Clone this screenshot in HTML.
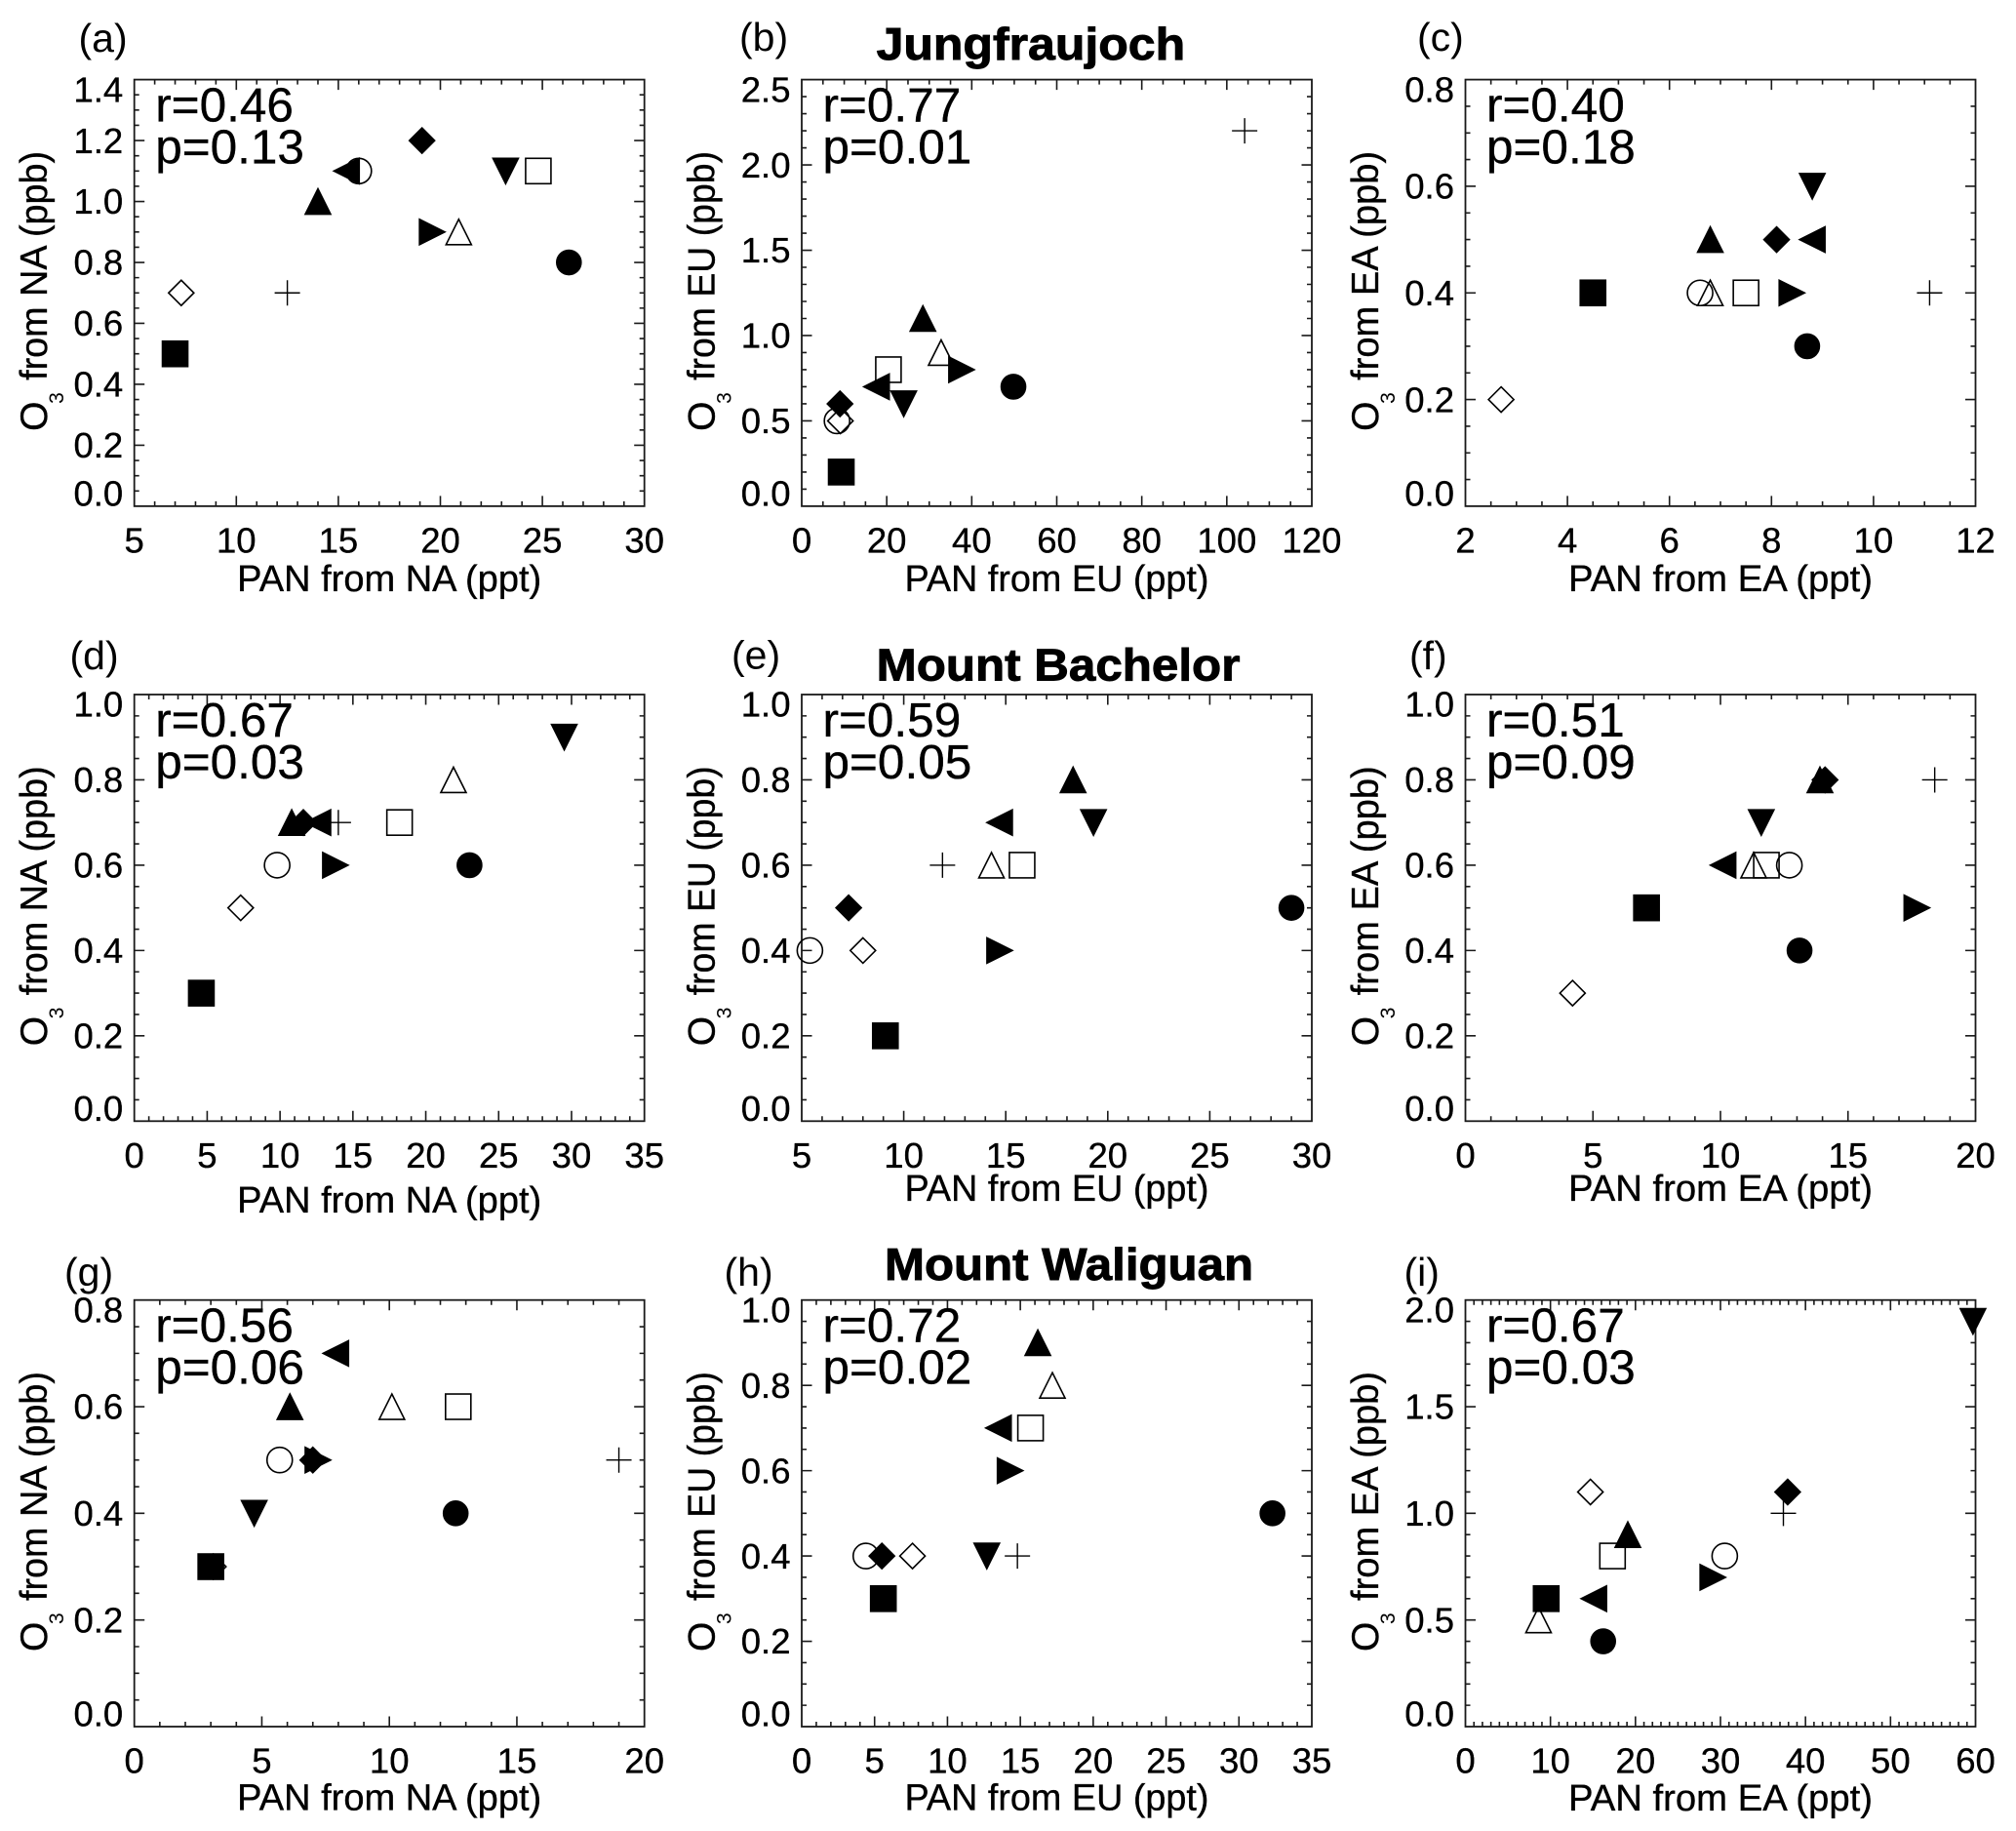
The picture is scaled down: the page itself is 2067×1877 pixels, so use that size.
<!DOCTYPE html>
<html lang="en">
<head>
<meta charset="utf-8">
<title>PAN vs O3 scatter panels</title>
<style>
html,body{margin:0;padding:0;background:#fff;}
svg{display:block;}
text{font-family:"Liberation Sans",Arial,sans-serif;fill:#000;}
</style>
</head>
<body>
<svg id="figure" xmlns="http://www.w3.org/2000/svg" width="2067" height="1877" viewBox="0 0 2067 1877"></svg>
<script>
// Month symbols shared by every panel (same order as every value array below)
const monthSymbols = ['fsq','fci','ftu','ftd','fl','fr','fdi','osq','oci','otu','odi','plus'];

// Panel (a) Jungfraujoch, NA
const panelAPan = [7.0,26.3,14.0,23.2,15.4,19.6,19.1,24.8,16.0,20.9,7.3,12.5];
const panelAO3  = [0.5,0.8,1.0,1.1,1.1,0.9,1.2,1.1,1.1,0.9,0.7,0.7];
const panelAXTicks = ['5','10','15','20','25','30'];
const panelAYTicks = ['0.0','0.2','0.4','0.6','0.8','1.0','1.2','1.4'];
// Panel (b) Jungfraujoch, EU
const panelBPan = [9.3,49.8,28.5,24.0,17.6,37.6,9.0,20.4,8.3,32.8,9.1,104.2];
const panelBO3  = [0.2,0.7,1.1,0.6,0.7,0.8,0.6,0.8,0.5,0.9,0.5,2.2];
const panelBXTicks = ['0','20','40','60','80','100','120'];
const panelBYTicks = ['0.0','0.5','1.0','1.5','2.0','2.5'];
// Panel (c) Jungfraujoch, EA
const panelCPan = [4.5,8.7,6.8,8.8,8.8,8.4,8.1,7.5,6.6,6.8,2.7,11.1];
const panelCO3  = [0.4,0.3,0.5,0.6,0.5,0.4,0.5,0.4,0.4,0.4,0.2,0.4];
const panelCXTicks = ['2','4','6','8','10','12'];
const panelCYTicks = ['0.0','0.2','0.4','0.6','0.8'];
// Panel (d) Mount Bachelor, NA
const panelDPan = [4.6,23.0,10.8,29.5,12.6,13.8,11.6,18.2,9.8,21.9,7.3,14.0];
const panelDO3  = [0.3,0.6,0.7,0.9,0.7,0.6,0.7,0.7,0.6,0.8,0.5,0.7];
const panelDXTicks = ['0','5','10','15','20','25','30','35'];
const panelDYTicks = ['0.0','0.2','0.4','0.6','0.8','1.0'];
// Panel (e) Mount Bachelor, EU
const panelEPan = [9.1,29.0,18.3,19.3,14.7,14.7,7.3,15.8,5.4,14.3,8.0,11.9];
const panelEO3  = [0.2,0.5,0.8,0.7,0.7,0.4,0.5,0.6,0.4,0.6,0.4,0.6];
const panelEXTicks = ['5','10','15','20','25','30'];
const panelEYTicks = ['0.0','0.2','0.4','0.6','0.8','1.0'];
// Panel (f) Mount Bachelor, EA
const panelFPan = [7.1,13.1,13.9,11.6,10.1,17.7,14.1,11.8,12.7,11.3,4.2,18.4];
const panelFO3  = [0.5,0.4,0.8,0.7,0.6,0.5,0.8,0.6,0.6,0.6,0.3,0.8];
const panelFXTicks = ['0','5','10','15','20'];
const panelFYTicks = ['0.0','0.2','0.4','0.6','0.8','1.0'];
// Panel (g) Mount Waliguan, NA
const panelGPan = [3.0,12.6,6.1,4.7,7.9,7.2,7.0,12.7,5.7,10.1,3.1,19.0];
const panelGO3  = [0.3,0.4,0.6,0.4,0.7,0.5,0.5,0.6,0.5,0.6,0.3,0.5];
const panelGXTicks = ['0','5','10','15','20'];
const panelGYTicks = ['0.0','0.2','0.4','0.6','0.8'];
// Panel (h) Mount Waliguan, EU
const panelHPan = [5.6,32.3,16.2,12.7,13.5,14.3,5.5,15.7,4.4,17.2,7.6,14.8];
const panelHO3  = [0.3,0.5,0.9,0.4,0.7,0.6,0.4,0.7,0.4,0.8,0.4,0.4];
const panelHXTicks = ['0','5','10','15','20','25','30','35'];
const panelHYTicks = ['0.0','0.2','0.4','0.6','0.8','1.0'];
// Panel (i) Mount Waliguan, EA
const panelIPan = [9.5,16.2,19.1,59.7,15.1,29.1,37.9,17.3,30.5,8.6,14.7,37.4];
const panelIO3  = [0.6,0.4,0.9,1.9,0.6,0.7,1.1,0.8,0.8,0.5,1.1,1.0];
const panelIXTicks = ['0','10','20','30','40','50','60'];
const panelIYTicks = ['0.0','0.5','1.0','1.5','2.0'];

const panels = [
 {id:'a',src:'NA',r:'r=0.46',p:'p=0.13',xs:panelAPan,ys:panelAO3,xt:panelAXTicks,yt:panelAYTicks,xm:5,ym:4,L:137.7,T:81.6,lx:80.5,ly:53,xb:606},
 {id:'b',src:'EU',r:'r=0.77',p:'p=0.01',xs:panelBPan,ys:panelBO3,xt:panelBXTicks,yt:panelBYTicks,xm:4,ym:5,L:822,T:81.6,lx:758,ly:52,xb:606,title:'Jungfraujoch',tx:898.6,ty:61,tw:316.5},
 {id:'c',src:'EA',r:'r=0.40',p:'p=0.18',xs:panelCPan,ys:panelCO3,xt:panelCXTicks,yt:panelCYTicks,xm:4,ym:4,L:1502.5,T:81.6,lx:1453,ly:52,xb:606},
 {id:'d',src:'NA',r:'r=0.67',p:'p=0.03',xs:panelDPan,ys:panelDO3,xt:panelDXTicks,yt:panelDYTicks,xm:5,ym:4,L:137.7,T:712,lx:71.5,ly:686,xb:1243},
 {id:'e',src:'EU',r:'r=0.59',p:'p=0.05',xs:panelEPan,ys:panelEO3,xt:panelEXTicks,yt:panelEYTicks,xm:5,ym:4,L:822,T:712,lx:750,ly:685.5,xb:1231,title:'Mount Bachelor',tx:898.7,ty:697.5,tw:372.7},
 {id:'f',src:'EA',r:'r=0.51',p:'p=0.09',xs:panelFPan,ys:panelFO3,xt:panelFXTicks,yt:panelFYTicks,xm:5,ym:4,L:1502.5,T:712,lx:1445,ly:686,xb:1231},
 {id:'g',src:'NA',r:'r=0.56',p:'p=0.06',xs:panelGPan,ys:panelGO3,xt:panelGXTicks,yt:panelGYTicks,xm:5,ym:4,L:137.7,T:1332.7,lx:66,ly:1318,xb:1855.4},
 {id:'h',src:'EU',r:'r=0.72',p:'p=0.02',xs:panelHPan,ys:panelHO3,xt:panelHXTicks,yt:panelHYTicks,xm:5,ym:4,L:822,T:1332.7,lx:742.5,ly:1318,xb:1855.4,title:'Mount Waliguan',tx:907,ty:1312,tw:378},
 {id:'i',src:'EA',r:'r=0.67',p:'p=0.03',xs:panelIPan,ys:panelIO3,xt:panelIXTicks,yt:panelIYTicks,xm:10,ym:5,L:1502.5,T:1332.7,lx:1439.5,ly:1318,xb:1856}
];

const W = 523, H = 437.3;
const NS = 'http://www.w3.org/2000/svg';
const INK = '#1a1a1a';
const TEXT_WEIGHT = 0.35;

function make(parent, tag, attrs, txt){
  const n = document.createElementNS(NS, tag);
  for (const k in attrs) n.setAttribute(k, attrs[k]);
  if (txt !== undefined) n.textContent = txt;
  parent.appendChild(n);
  return n;
}

function drawMarker(parent, sym, cx, cy){
  const s = 13, fill = sym.charAt(0) === 'f' ? '#000' : 'none';
  const style = {fill: fill, stroke: '#000', 'stroke-width': 1.6};
  let el;
  if (sym === 'fci' || sym === 'oci') {
    el = make(parent, 'circle', Object.assign({cx: cx, cy: cy, r: s - (fill==='none'?0:0.5)}, style));
  } else if (sym === 'fsq' || sym === 'osq') {
    el = make(parent, 'rect', Object.assign({x: cx - s, y: cy - s, width: 2 * s, height: 2 * s}, style));
  } else if (sym === 'plus') {
    el = make(parent, 'path', {d: 'M' + (cx - s) + ' ' + cy + 'H' + (cx + s) + 'M' + cx + ' ' + (cy - s) + 'V' + (cy + s), fill: 'none', stroke: '#000', 'stroke-width': 1.4});
  } else {
    let pts;
    if (sym === 'ftu' || sym === 'otu') pts = [[cx, cy - s], [cx + s, cy + s], [cx - s, cy + s]];
    else if (sym === 'ftd') pts = [[cx, cy + s], [cx + s, cy - s], [cx - s, cy - s]];
    else if (sym === 'fl') pts = [[cx - s, cy], [cx + s, cy - s], [cx + s, cy + s]];
    else if (sym === 'fr') pts = [[cx + s, cy], [cx - s, cy - s], [cx - s, cy + s]];
    else pts = [[cx, cy - s], [cx + s, cy], [cx, cy + s], [cx - s, cy]];
    el = make(parent, 'polygon', Object.assign({points: pts.map(function(q){return q.join(',');}).join(' ')}, style));
  }
  
  
}

function drawPanel(svg, p){
  const R = p.L + W, B = p.T + H;
  const xMin = parseFloat(p.xt[0]), xMax = parseFloat(p.xt[p.xt.length - 1]);
  const yMin = parseFloat(p.yt[0]), yMax = parseFloat(p.yt[p.yt.length - 1]);
  const xScale = function(v){ return p.L + (v - xMin) / (xMax - xMin) * W; };
  const yScale = function(v){ return B - (v - yMin) / (yMax - yMin) * H; };

  const g = make(svg, 'g', {});
  
  

  const frame = make(g, 'rect', {x: p.L, y: p.T, width: W, height: H, fill: 'none', stroke: INK, 'stroke-width': 1.8});
  
  

  // tick marks on all four sides
  let d = '';
  const xStep = (parseFloat(p.xt[1]) - xMin) / p.xm;
  const yStep = (parseFloat(p.yt[1]) - yMin) / p.ym;
  const nx = Math.round((xMax - xMin) / xStep), ny = Math.round((yMax - yMin) / yStep);
  for (let i = 1; i < nx; i++){
    const x = xScale(xMin + i * xStep), len = i % p.xm === 0 ? 10.5 : 5;
    d += 'M' + x + ' ' + B + 'v' + (-len) + 'M' + x + ' ' + p.T + 'v' + len;
  }
  for (let i = 1; i < ny; i++){
    const y = yScale(yMin + i * yStep), len = i % p.ym === 0 ? 10.5 : 5;
    d += 'M' + p.L + ' ' + y + 'h' + len + 'M' + R + ' ' + y + 'h' + (-len);
  }
  const ticks = make(g, 'path', {d: d, fill: 'none', stroke: INK, 'stroke-width': 1.6});
  
  

  // x tick labels
  p.xt.forEach(function(lab){
    const t = make(g, 'text', {x: xScale(parseFloat(lab)), y: B + 47.5, 'text-anchor': 'middle', 'font-size': 36.5, stroke: '#000', 'stroke-width': TEXT_WEIGHT}, lab);
    
    
  });
  // y tick labels (the two end labels sit inset from the frame corners)
  p.yt.forEach(function(lab, i){
    const shift = i === 0 ? -13 : (i === p.yt.length - 1 ? 10 : 0);
    const t = make(g, 'text', {x: p.L - 11.5, y: yScale(parseFloat(lab)) + shift + 12.7, 'text-anchor': 'end', 'font-size': 36.5, stroke: '#000', 'stroke-width': TEXT_WEIGHT}, lab);
    
    
  });

  // axis titles
  const xTitle = make(g, 'text', {x: p.L + W / 2, y: p.xb, 'text-anchor': 'middle', 'font-size': 38, stroke: '#000', 'stroke-width': TEXT_WEIGHT, textLength: 312, lengthAdjust: 'spacingAndGlyphs'}, 'PAN from ' + p.src + ' (ppt)');
  
  

  const yx = p.L - 89.5;
  const yG = make(g, 'g', {});
  
  
  const yO = make(yG, 'text', {transform: 'translate(' + yx + ' ' + (B - 77) + ') rotate(-90)', 'font-size': 39, stroke: '#000', 'stroke-width': TEXT_WEIGHT}, 'O');
  
  
  const y3 = make(yG, 'text', {transform: 'translate(' + (yx + 17) + ' ' + (B - 105) + ') rotate(-90)', 'font-size': 21}, '3');
  
  
  const yF = make(yG, 'text', {transform: 'translate(' + yx + ' ' + (B - 129) + ') rotate(-90)', 'font-size': 39, stroke: '#000', 'stroke-width': TEXT_WEIGHT, textLength: 235, lengthAdjust: 'spacingAndGlyphs'}, 'from ' + p.src + ' (ppb)');
  
  

  // panel letter
  const letter = make(g, 'text', {x: p.lx, y: p.ly, 'font-size': 41}, '(' + p.id + ')');
  
  

  // station title
  if (p.title){
    const st = make(g, 'text', {x: p.tx, y: p.ty, 'font-size': 46, 'font-weight': 'bold', stroke: '#000', 'stroke-width': 0.9, textLength: p.tw, lengthAdjust: 'spacingAndGlyphs'}, p.title);
    
    
  }

  // statistics
  const rT = make(g, 'text', {x: p.L + 21.5, y: p.T + 43, 'font-size': 49.5, stroke: '#000', 'stroke-width': TEXT_WEIGHT}, p.r);
  
  
  const pT = make(g, 'text', {x: p.L + 21.5, y: p.T + 86, 'font-size': 49.5, stroke: '#000', 'stroke-width': TEXT_WEIGHT}, p.p);
  
  

  // markers
  const mg = make(g, 'g', {});
  
  
  monthSymbols.forEach(function(sym, i){
    drawMarker(mg, sym, xScale(p.xs[i]), yScale(p.ys[i]));
  });
}

const figure = document.getElementById('figure');
panels.forEach(function(p){ drawPanel(figure, p); });
</script>
</body>
</html>
